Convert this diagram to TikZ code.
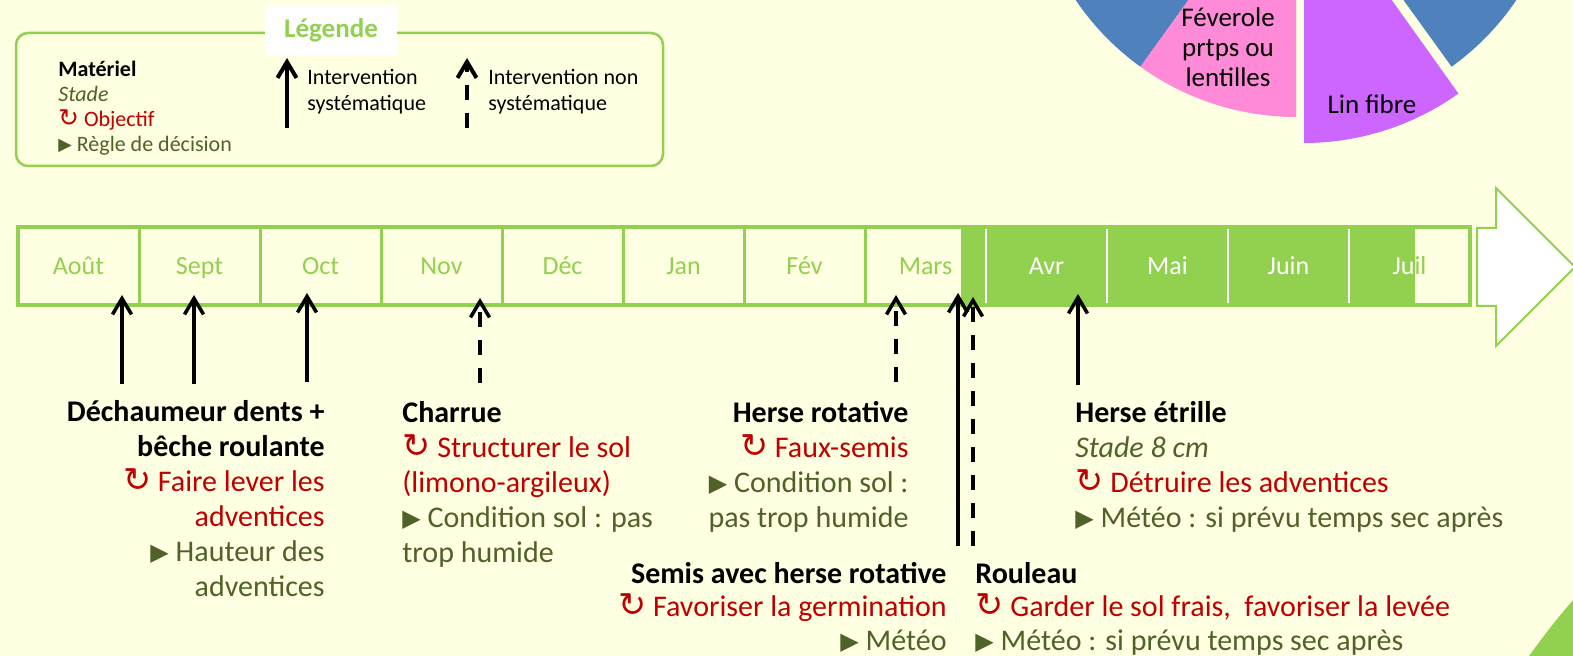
\documentclass[tikz,border=0pt]{standalone}
\usepackage{fontspec}
\setmainfont{Carlito}
\newfontfamily\symfont{DejaVu Sans}
\usepackage{graphicx}
\usetikzlibrary{arrows.meta}

\definecolor{fond}{RGB}{255,255,225}
\definecolor{vertclair}{RGB}{146,208,80}
\definecolor{rougeobj}{RGB}{192,0,0}
\definecolor{vertregle}{RGB}{79,98,40}
\definecolor{bleupie}{RGB}{79,129,189}
\definecolor{rosepie}{RGB}{255,139,216}
\definecolor{violetpie}{RGB}{204,102,255}

\newcommand{\obj}{{\symfont\scalebox{1.12}{↻}}}
\newcommand{\regle}{\raisebox{0.1ex}{\scalebox{0.8}{\symfont ▶}}}
\def\listemois{Août,Sept,Oct,Nov,Déc,Jan,Fév,Mars,Avr,Mai,Juin,Juil}

\tikzset{
  interv/.style={line width=1.75pt, -{Straight Barb[length=8pt,width=9.5pt]}},
  intervns/.style={interv, dash pattern=on 7.5pt off 6.5pt},
  mois/.style={anchor=base, font=\fontsize{13}{15}\selectfont, text=vertclair},
  bloc/.style={inner sep=0pt, font=\fontsize{15}{17.5}\selectfont},
  petit/.style={inner sep=0pt, font=\fontsize{11}{13}\selectfont},
}

\begin{document}
\begin{tikzpicture}[x=0.5pt, y=-0.5pt]
  \useasboundingbox (0,0) rectangle (1573,656);
  \fill[fond] (0,0) rectangle (1573,656);
  \clip (0,0) rectangle (1573,656);

  % Camembert des cultures
  \fill[bleupie] (1296,-149) -- ++(125.8:266) arc[start angle=125.8, end angle=200, radius=266] -- cycle;
  \fill[bleupie] (1296,-149) -- ++(-20:266) arc[start angle=-20, end angle=54.2, radius=266] -- cycle;
  \fill[rosepie] (1296,-149) -- ++(90:266) arc[start angle=90, end angle=125.8, radius=266] -- cycle;
  \fill[violetpie] (1304,-123) -- ++(54.5:266) arc[start angle=54.5, end angle=90, radius=266] -- cycle;
  \node[align=center, font=\fontsize{13.5}{15}\selectfont] (fev) at (1228,47) {Féverole\\prtps ou\\lentilles};
  \node[font=\fontsize{13.5}{15}\selectfont] (lin) at (1372,104) {Lin fibre};

  % Legende
  \draw[vertclair, line width=1.25pt, rounded corners=6pt] (16,33) rectangle (663,166);
  \node[fill=white, minimum width=66pt, minimum height=25pt, text=vertclair,
        font=\bfseries\fontsize{13.5}{15}\selectfont] (leg) at (331,30) {Légende};
  \node[petit, anchor=north west, align=left, font=\fontsize{11}{12.4}\selectfont] (legtxt) at (58,61)
    {\textbf{Matériel}\\ \textcolor{vertregle}{\textit{Stade}}\\
     \textcolor{rougeobj}{\obj\ Objectif}\\ \textcolor{vertregle}{\regle\ Règle de décision}};
  \coordinate (ls0) at (287,128); \coordinate (ls1) at (287,58);
  \draw[interv, line width=2pt] (ls0) -- (ls1);
  \node[petit, anchor=west, align=left] (lsys) at (307,92) {Intervention\\systématique};
  \coordinate (ln0) at (467,128); \coordinate (ln1) at (467,58);
  \draw[intervns, line width=2pt] (ln0) -- (ln1);
  \node[petit, anchor=west, align=left] (lnsys) at (488,92) {Intervention non\\systématique};

  % Frise des mois
  \foreach \m [count=\i from 0] in \listemois
    \node[mois] (m\i) at (78.5+121*\i,275) {\m};
  \fill[vertclair] (961,227) rectangle (1415,305);
  \foreach \x in {986,1107,1228,1349}
    \draw[white, line width=1.25pt] (\x,227) -- (\x,305);
  \begin{scope}
    \clip (961,227) rectangle (1415,305);
    \foreach \m [count=\i from 0] in \listemois
      \node[mois, text=white] at (78.5+121*\i,275) {\m};
  \end{scope}
  \foreach \x in {139,260,381,502,623,744,865}
    \draw[vertclair, line width=1.5pt] (\x,227) -- (\x,305);
  \draw[vertclair, line width=1.75pt] (18,227) rectangle (1470,305);
  \draw[vertclair, line width=1pt, fill=white] (1477,228) -- (1496,228) -- (1496,188)
    -- (1575,267) -- (1496,346) -- (1496,306) -- (1477,306) -- cycle;
  \fill[vertclair] (1529,656) .. controls (1545,634) and (1559,616) .. (1574,599) -- (1574,656) -- cycle;

  % Interventions
  \foreach \x/\yh/\yb/\sty [count=\i] in
    {122/295/384/interv, 194/295/384/interv, 307/293/382/interv, 480/298/383/intervns,
     896/295/382/intervns, 958/293/546/interv, 973/297/546/intervns, 1078/294/385/interv}
  {
    \coordinate (bas\i) at (\x,\yb);
    \coordinate (haut\i) at (\x,\yh);
    \draw[\sty] (bas\i) -- (haut\i);
  }

  % Textes des interventions
  \node[bloc, anchor=north east, align=right] (dech) at (325,400)
    {\textbf{Déchaumeur dents +}\\ \textbf{bêche roulante}\\
     \textcolor{rougeobj}{\obj\ Faire lever les}\\ \textcolor{rougeobj}{adventices}\\
     \textcolor{vertregle}{\regle\ Hauteur des}\\ \textcolor{vertregle}{adventices}};
  \node[bloc, anchor=north west, align=left] (charrue) at (402,401)
    {\textbf{Charrue}\\ \textcolor{rougeobj}{\obj\ Structurer le sol}\\
     \textcolor{rougeobj}{(limono-argileux)}\\
     \textcolor{vertregle}{\regle\ Condition sol : pas}\\ \textcolor{vertregle}{trop humide}};
  \node[bloc, anchor=north east, align=right] (herserot) at (909,401)
    {\textbf{Herse rotative}\\ \textcolor{rougeobj}{\obj\ Faux-semis}\\
     \textcolor{vertregle}{\regle\ Condition sol :}\\ \textcolor{vertregle}{pas trop humide}};
  \node[bloc, anchor=north east, align=right, font=\fontsize{15}{16.75}\selectfont] (semis) at (947,562)
    {\textbf{Semis avec herse rotative}\\ \textcolor{rougeobj}{\obj\ Favoriser la germination}\\
     \textcolor{vertregle}{\regle\ Météo}};
  \node[bloc, anchor=north west, align=left, font=\fontsize{15}{16.75}\selectfont] (rouleau) at (975,562)
    {\textbf{Rouleau}\\ \textcolor{rougeobj}{\obj\ Garder le sol frais, \ favoriser la levée}\\
     \textcolor{vertregle}{\regle\ Météo : si prévu temps sec après}};
  \node[bloc, anchor=north west, align=left] (etrille) at (1075,401)
    {\textbf{Herse étrille}\\ \textcolor{vertregle}{\textit{Stade 8 cm}}\\
     \textcolor{rougeobj}{\obj\ Détruire les adventices}\\
     \textcolor{vertregle}{\regle\ Météo : si prévu temps sec après}};
\end{tikzpicture}
\end{document}
